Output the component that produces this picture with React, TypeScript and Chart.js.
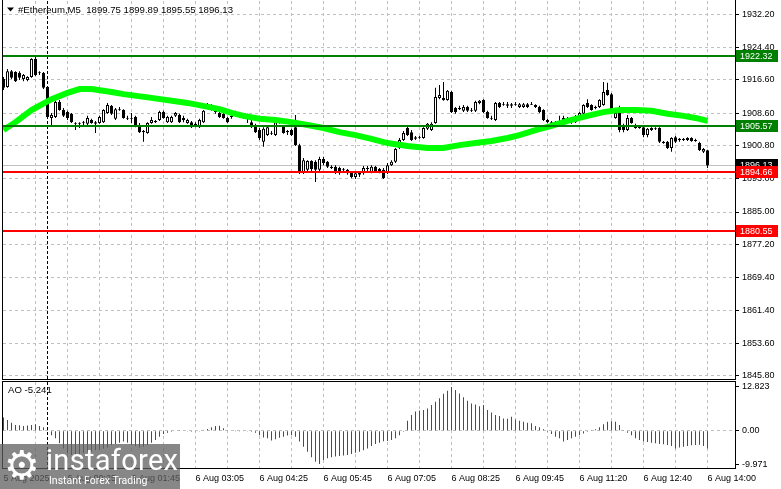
import React, { useEffect, useRef } from 'react';
import { Chart, registerables } from 'chart.js';

Chart.register(...registerables);

const FONT = '"Liberation Sans", Arial, sans-serif';

const SYMBOL = '#Ethereum,M5';

const OPEN = [
  1916.8,1914.9,1918.7,1918.5,1918.3,1916.8,1916.6,1917.3,1921.6,1918.3,
  1918.3,1914.9,1907.5,1907.7,1911.3,1909.4,1908.9,1908.5,1906.3,1906.3,
  1906.3,1906.1,1907.0,1906.5,1906.3,1906.5,1908.7,1910.4,1907.3,1909.6,
  1909.4,1907.5,1907.3,1907.7,1905.8,1904.4,1903.9,1906.3,1906.8,1907.0,
  1908.9,1906.5,1906.5,1908.0,1908.2,1907.5,1906.3,1906.5,1906.1,1905.3,
  1906.5,1909.9,1910.6,1909.4,1908.7,1908.5,1907.5,1908.0,1908.2,1908.7,
  1907.7,1908.0,1906.5,1905.8,1904.6,1901.8,1903.4,1903.9,1903.4,1906.5,
  1905.6,1904.1,1904.6,1905.3,1901.0,1894.6,1895.1,1897.2,1897.0,1895.1,
  1897.7,1897.0,1895.8,1895.8,1895.5,1895.1,1895.1,1894.6,1893.4,1894.6,
  1894.3,1895.3,1894.6,1895.8,1895.3,1895.1,1894.6,1896.2,1897.0,1900.3,
  1902.2,1905.1,1904.1,1902.9,1902.7,1902.7,1904.9,1904.6,1906.3,1912.3,
  1912.3,1911.8,1913.7,1909.9,1909.9,1909.2,1910.1,1909.4,1909.2,1911.1,
  1911.8,1908.9,1907.5,1907.0,1911.1,1910.8,1910.8,1910.8,1910.6,1910.1,
  1910.1,1910.8,1910.8,1910.6,1910.1,1909.4,1907.0,1906.5,1906.5,1906.8,
  1906.3,1906.5,1906.5,1906.5,1907.5,1908.5,1911.1,1910.6,1909.9,1910.1,
  1910.6,1914.2,1913.2,1907.5,1909.9,1905.8,1904.6,1907.5,1905.8,1905.6,
  1905.3,1903.4,1905.1,1905.1,1905.1,1901.8,1901.8,1900.3,1902.9,1902.5,
  1902.5,1902.2,1902.7,1902.2,1901.5,1899.4,1899.75,
];

const HIGH = [
  1917.3,1919.2,1919.0,1918.7,1918.7,1918.0,1917.5,1921.8,1922.3,1918.7,
  1918.5,1915.1,1908.7,1911.6,1911.8,1909.9,1909.2,1908.7,1906.5,1906.5,
  1906.8,1908.0,1907.3,1906.8,1908.0,1909.6,1911.1,1910.6,1909.9,1910.1,
  1909.6,1908.0,1908.7,1908.0,1906.3,1904.6,1906.5,1907.7,1907.0,1909.2,
  1909.2,1908.0,1908.0,1908.9,1908.5,1908.0,1907.3,1906.8,1906.5,1907.3,
  1909.4,1911.1,1910.8,1909.6,1908.9,1908.7,1907.7,1908.2,1909.2,1908.9,
  1908.7,1908.5,1907.0,1906.1,1905.1,1905.3,1905.8,1904.4,1907.0,1907.5,
  1905.8,1904.6,1904.9,1908.2,1901.3,1897.9,1897.4,1897.4,1897.4,1898.2,
  1898.2,1897.2,1896.2,1896.2,1895.8,1895.5,1895.3,1894.8,1894.8,1894.8,
  1896.0,1896.0,1896.2,1896.0,1895.5,1895.5,1896.7,1897.4,1900.3,1902.7,
  1904.4,1905.6,1904.6,1903.2,1903.2,1905.3,1906.3,1906.5,1914.7,1915.4,
  1916.1,1914.2,1914.0,1910.1,1910.4,1910.6,1910.4,1909.9,1911.6,1911.8,
  1912.0,1909.2,1908.0,1911.3,1911.3,1911.3,1911.3,1911.1,1911.3,1911.1,
  1911.1,1911.1,1911.3,1910.8,1910.4,1909.6,1907.3,1906.8,1906.8,1908.0,
  1908.0,1907.7,1907.7,1908.2,1908.9,1910.8,1912.0,1910.8,1910.4,1912.0,
  1916.1,1915.9,1913.5,1908.9,1910.4,1906.1,1908.2,1907.7,1906.1,1905.8,
  1905.6,1905.1,1905.3,1905.3,1905.3,1902.0,1902.0,1902.9,1903.2,1902.7,
  1902.7,1902.9,1902.9,1902.5,1901.8,1900.3,1899.89,
];

const LOW = [
  1914.2,1914.7,1916.8,1916.1,1916.6,1916.3,1916.3,1917.1,1917.5,1917.8,
  1914.4,1907.5,1905.8,1907.5,1909.2,1907.7,1907.0,1906.3,1904.6,1905.1,
  1905.6,1905.8,1906.1,1903.9,1906.1,1906.3,1908.5,1908.2,1907.0,1909.2,
  1907.3,1907.0,1906.3,1905.3,1903.9,1901.8,1903.7,1906.1,1906.3,1906.8,
  1907.3,1906.3,1906.3,1907.7,1906.3,1906.5,1906.1,1905.1,1905.3,1905.1,
  1906.3,1909.6,1909.2,1908.5,1907.5,1907.3,1906.3,1907.3,1908.0,1907.5,
  1907.3,1906.3,1905.1,1903.9,1902.2,1900.6,1903.2,1903.4,1903.2,1906.1,
  1903.7,1903.4,1903.2,1900.8,1894.1,1894.1,1894.6,1894.8,1892.2,1894.8,
  1896.2,1895.5,1895.3,1894.1,1893.9,1894.6,1893.9,1893.1,1892.9,1893.4,
  1893.9,1894.8,1894.3,1894.6,1894.3,1892.9,1894.1,1896.0,1896.7,1900.1,
  1902.0,1903.2,1902.0,1902.2,1902.5,1902.5,1904.6,1904.4,1906.1,1912.0,
  1911.6,1911.6,1908.7,1908.5,1909.4,1908.9,1908.9,1908.9,1908.9,1910.8,
  1908.7,1907.3,1907.0,1906.8,1909.9,1910.4,1909.9,1909.9,1910.4,1909.9,
  1909.9,1909.9,1910.6,1909.9,1908.7,1906.8,1906.3,1905.8,1905.8,1906.1,
  1906.1,1906.1,1906.1,1906.3,1907.3,1908.2,1909.9,1909.2,1909.6,1909.9,
  1910.4,1912.8,1908.5,1907.3,1904.1,1904.1,1904.4,1906.1,1904.9,1904.9,
  1902.9,1902.9,1904.4,1904.6,1901.5,1901.3,1900.1,1899.4,1901.5,1901.8,
  1902.0,1902.0,1901.8,1901.8,1899.6,1899.1,1895.55,
];

const CLOSE = [
  1914.7,1918.7,1917.1,1916.3,1917.1,1917.8,1917.3,1921.6,1917.8,1918.5,
  1914.7,1907.7,1908.2,1911.3,1909.4,1908.0,1907.5,1906.5,1906.1,1906.1,
  1906.5,1907.5,1906.3,1906.1,1907.7,1909.4,1910.6,1908.5,1909.6,1909.4,
  1907.5,1907.3,1907.5,1905.6,1904.1,1904.1,1906.3,1907.0,1906.5,1908.9,
  1907.5,1907.7,1907.7,1908.7,1906.5,1907.0,1907.0,1905.3,1905.8,1907.0,
  1909.2,1910.6,1909.4,1908.9,1907.7,1907.5,1906.5,1907.7,1908.9,1907.7,
  1908.2,1907.5,1905.3,1904.1,1902.7,1904.9,1905.3,1903.7,1906.5,1906.8,
  1903.9,1904.4,1903.4,1901.0,1894.6,1897.4,1897.2,1895.3,1895.1,1897.7,
  1896.7,1895.8,1895.5,1894.6,1894.3,1895.3,1894.3,1893.4,1894.3,1893.9,
  1895.5,1895.5,1895.8,1894.8,1894.8,1893.1,1896.2,1897.0,1900.1,1902.2,
  1903.9,1903.4,1902.2,1902.5,1902.9,1905.1,1906.1,1906.1,1912.5,1913.0,
  1911.8,1914.0,1908.9,1908.9,1909.6,1910.1,1909.2,1909.2,1911.3,1911.6,
  1908.9,1907.5,1907.3,1911.1,1910.1,1910.6,1910.4,1910.4,1910.8,1910.8,
  1910.8,1910.1,1910.6,1910.1,1908.9,1907.0,1906.5,1906.1,1906.1,1906.5,
  1907.5,1906.8,1907.5,1907.7,1908.7,1910.6,1910.1,1909.4,1910.1,1911.8,
  1913.7,1913.0,1908.7,1908.7,1904.6,1904.6,1907.5,1906.3,1905.1,1905.1,
  1903.4,1904.9,1904.6,1904.9,1901.8,1901.5,1900.3,1902.7,1901.8,1902.2,
  1902.2,1902.7,1902.0,1902.0,1899.8,1900.1,1896.13,
];

// moving average line, read at sample bars
const MA_X = [0,3,7,12,16,19,22,27,30,37,46,54,57,60,64,68,72,76,80,84,88,92,96,101,106,110,114,118,122,126,129,133,137,141,146,150,154,158,162,166,170,173,176];
const MA_Y = [1904.6,1906.5,1909.4,1912.0,1913.5,1914.4,1914.4,1913.7,1913.2,1912.3,1911.1,1909.6,1908.7,1908.0,1907.3,1907.0,1906.5,1905.8,1905.1,1904.1,1903.4,1902.5,1901.5,1900.8,1900.3,1900.3,1901.0,1901.5,1902.0,1902.7,1903.4,1904.6,1905.6,1906.8,1908.0,1908.9,1909.4,1909.4,1909.2,1908.5,1908.0,1907.5,1906.8];

const AO = [
  3.9,3.1,2.3,1.7,1.6,1.4,1.5,1.7,1.9,1.4,
  1.0,0.2,-1.3,-2.2,-3.7,-5.2,-6.6,-7.1,-7.4,-7.1,
  -6.6,-6.5,-6.2,-5.7,-5.5,-5.2,-4.9,-4.2,-3.9,-3.5,
  -3.2,-3.5,-4.2,-4.5,-4.9,-4.7,-4.2,-3.5,-2.7,-1.8,
  -1.0,-0.6,-0.3,0.1,0.2,0.15,-0.2,-0.3,-0.2,-0.1,
  0.2,0.5,1.0,1.4,1.45,0.7,0.2,0.1,-0.05,-0.1,
  -0.15,-0.1,-0.3,-0.6,-1.3,-2.0,-2.2,-2.9,-2.5,-2.1,
  -1.8,-1.4,-1.3,-1.8,-3.2,-4.7,-6.2,-7.8,-9.1,-9.8,
  -8.6,-8.1,-7.8,-7.6,-7.4,-7.3,-7.1,-6.8,-6.5,-6.2,
  -5.7,-5.2,-4.5,-3.9,-3.5,-3.1,-3.0,-2.7,-2.2,-1.3,
  -0.3,2.9,4.6,5.6,5.9,6.1,6.5,7.5,8.5,9.5,
  10.8,11.7,12.823,11.9,10.9,9.8,8.8,8.0,7.7,7.2,
  7.5,6.1,5.3,4.6,4.3,3.6,3.5,4.1,3.3,2.9,
  2.6,2.3,2.2,1.4,1.0,0.4,-0.3,-1.0,-1.8,-2.2,
  -3.2,-2.7,-2.2,-1.8,-1.3,-0.8,-0.3,0.2,0.4,1.0,
  1.9,2.6,2.8,2.6,1.7,0.2,-0.6,-1.3,-2.2,-2.7,
  -3.2,-3.3,-3.5,-3.7,-3.9,-4.0,-4.2,-4.5,-5.2,-4.9,
  -4.7,-4.5,-4.3,-4.2,-4.1,-4.5,-5.241,
];

const PRICE_TICKS = [1932.20,1924.40,1916.60,1908.60,1900.80,1893.00,1885.00,1877.20,1869.40,1861.40,1853.60,1845.80];
const AO_TICKS = [12.823, 0, -9.971];
const AO_TICK_TEXT = ['12.823', '0.00', '-9.971'];

const GREEN_LEVELS = [1922.32, 1905.57];
const RED_LEVELS = [1894.66, 1880.55];

const LABEL_IDX = [0,16,32,48,64,80,96,112,128,144,160,176];
const LABEL_TEXT = ['5 Aug 2025','6 Aug 00:25','6 Aug 01:45','6 Aug 03:05','6 Aug 04:25','6 Aug 05:45','6 Aug 07:05','6 Aug 08:25','6 Aug 09:45','6 Aug 11:20','6 Aug 12:40','6 Aug 14:00'];
const GRID_IDX = [8,16,24,32,40,48,56,64,72,80,88,96,104,112,120,128,136,144,152,160,168,176];
const DAY_START = 11;

// layout constants
const X_MIN = -0.125;
const X_MAX = 182.875;
const PRICE_MIN = 1845.05;
const PRICE_MAX = 1935.48;
const AO_MIN = -10.94;
const AO_MAX = 14.28;

const GRID = '#c0c0c0';
const LEVEL_GREEN = '#008000';
const LEVEL_RED = '#ff0000';
const AO_UP = '#008000';
const AO_DOWN = '#ff0000';
const MA_COLOR = '#00ff00';

const LAST = CLOSE.length - 1;
const BID = CLOSE[LAST];

function line(ctx: any, x1: number, y1: number, x2: number, y2: number) {
  ctx.beginPath();
  ctx.moveTo(x1, y1);
  ctx.lineTo(x2, y2);
  ctx.stroke();
}

function priceBox(ctx: any, a: any, y: number, bg: string, text: string) {
  const cy = Math.round(y);
  ctx.fillStyle = bg;
  ctx.fillRect(a.right + 1, cy - 6, 42, 12);
  ctx.fillStyle = '#ffffff';
  ctx.textBaseline = 'middle';
  ctx.textAlign = 'left';
  ctx.fillText(text, a.right + 5, cy + 0.5);
}

const mainOverlay = {
  id: 'mainOverlay',
  beforeDatasetsDraw(chart: any) {
    const { ctx, chartArea: a, scales } = chart;
    ctx.save();
    ctx.lineWidth = 1;
    ctx.strokeStyle = GRID;
    const by = Math.round(scales.y.getPixelForValue(BID)) + 0.5;
    line(ctx, a.left, by, a.right, by);
    const sx = scales.x.getPixelForValue(DAY_START);
    ctx.strokeStyle = '#000';
    ctx.setLineDash([3, 2]);
    line(ctx, sx, a.top, sx, a.bottom);
    ctx.restore();
  },
  afterDatasetsDraw(chart: any) {
    const { ctx, chartArea: a, scales } = chart;
    ctx.save();
    ctx.lineWidth = 2;
    GREEN_LEVELS.forEach((v) => {
      ctx.strokeStyle = LEVEL_GREEN;
      const y = Math.round(scales.y.getPixelForValue(v));
      line(ctx, a.left, y, a.right, y);
    });
    RED_LEVELS.forEach((v) => {
      ctx.strokeStyle = LEVEL_RED;
      const y = Math.round(scales.y.getPixelForValue(v));
      line(ctx, a.left, y, a.right, y);
    });
    ctx.restore();
  },
  afterDraw(chart: any) {
    const { ctx, chartArea: a, scales } = chart;
    ctx.save();
    ctx.strokeStyle = '#000';
    ctx.lineWidth = 1;
    line(ctx, a.left - 0.5, 0, a.left - 0.5, a.bottom + 1);
    line(ctx, a.right + 0.5, 0, a.right + 0.5, a.bottom + 1);
    line(ctx, a.left - 1, a.bottom + 0.5, a.right + 1, a.bottom + 0.5);
    ctx.font = `9px ${FONT}`;
    priceBox(ctx, a, scales.y.getPixelForValue(BID), '#000000', BID.toFixed(2));
    GREEN_LEVELS.forEach((v) => priceBox(ctx, a, scales.y.getPixelForValue(v), LEVEL_GREEN, v.toFixed(2)));
    RED_LEVELS.forEach((v) => priceBox(ctx, a, scales.y.getPixelForValue(v), LEVEL_RED, v.toFixed(2)));
    // title
    ctx.fillStyle = '#000';
    ctx.beginPath();
    ctx.moveTo(7, 7.5);
    ctx.lineTo(14, 7.5);
    ctx.lineTo(10.5, 11.5);
    ctx.closePath();
    ctx.fill();
    ctx.font = `9.6px ${FONT}`;
    ctx.textAlign = 'left';
    ctx.textBaseline = 'middle';
    const ohlc = [OPEN[LAST], HIGH[LAST], LOW[LAST], CLOSE[LAST]].map((v) => v.toFixed(2)).join(' ');
    ctx.fillText(`${SYMBOL}  ${ohlc}`, 18, 10);
    ctx.restore();
  },
};

const aoOverlay = {
  id: 'aoOverlay',
  beforeDatasetsDraw(chart: any) {
    const { ctx, chartArea: a, scales } = chart;
    ctx.save();
    ctx.lineWidth = 1;
    ctx.strokeStyle = '#000';
    ctx.setLineDash([3, 2]);
    const sx = scales.x.getPixelForValue(DAY_START);
    line(ctx, sx, a.top, sx, a.bottom);
    ctx.restore();
  },
  afterDraw(chart: any) {
    const { ctx, chartArea: a } = chart;
    ctx.save();
    ctx.strokeStyle = '#000';
    ctx.lineWidth = 1;
    line(ctx, a.left - 1, a.top - 0.5, a.right + 1, a.top - 0.5);
    line(ctx, a.left - 1, a.bottom + 0.5, a.right + 1, a.bottom + 0.5);
    line(ctx, a.left - 0.5, a.top - 1, a.left - 0.5, a.bottom + 1);
    line(ctx, a.right + 0.5, a.top - 1, a.right + 0.5, a.bottom + 1);
    ctx.font = `9.6px ${FONT}`;
    ctx.fillStyle = '#000';
    ctx.textAlign = 'left';
    ctx.textBaseline = 'middle';
    ctx.fillText(`AO ${AO[AO.length - 1].toFixed(3)}`, 8, 10);
    ctx.restore();
  },
};

const tickFont = { family: FONT, size: 9 };

function mainConfig(): any {
  const idx = OPEN.map((_, i) => i);
  return {
    type: 'bar',
    data: {
      datasets: [
        {
          type: 'line',
          data: MA_X.map((x, i) => ({ x, y: MA_Y[i] })),
          borderColor: MA_COLOR,
          borderWidth: 6,
          pointRadius: 0,
          tension: 0,
          order: 0,
          clip: 0,
        },
        {
          type: 'bar',
          data: idx.map((i) => ({ x: i, y: [OPEN[i], CLOSE[i]] })),
          backgroundColor: idx.map((i) => (CLOSE[i] >= OPEN[i] ? '#ffffff' : '#000000')),
          borderColor: '#000000',
          borderWidth: 1,
          borderSkipped: false,
          barThickness: 3,
          grouped: false,
          inflateAmount: 0,
          order: 1,
        },
        {
          type: 'bar',
          data: idx.map((i) => ({ x: i, y: [LOW[i], HIGH[i]] })),
          backgroundColor: '#000000',
          borderWidth: 0,
          barThickness: 1,
          grouped: false,
          inflateAmount: 0,
          order: 2,
        },
      ],
    },
    options: {
      animation: false,
      responsive: false,
      devicePixelRatio: 1,
      events: [],
      layout: { padding: { left: 3, top: 1, right: 0, bottom: 1 } },
      plugins: { legend: { display: false }, tooltip: { enabled: false } },
      scales: {
        x: {
          type: 'linear',
          min: X_MIN,
          max: X_MAX,
          offset: false,
          bounds: 'data',
          afterBuildTicks: (s: any) => { s.ticks = GRID_IDX.map((v) => ({ value: v })); },
          afterFit: (s: any) => { s.height = 0; s.paddingLeft = 0; s.paddingRight = 0; },
          ticks: { display: false },
          grid: { color: GRID, lineWidth: 1, drawTicks: false, offset: false },
          border: { display: false, dash: [3, 3] },
        },
        y: {
          type: 'linear',
          position: 'right',
          min: PRICE_MIN,
          max: PRICE_MAX,
          bounds: 'data',
          afterBuildTicks: (s: any) => { s.ticks = PRICE_TICKS.map((v) => ({ value: v })); },
          afterFit: (s: any) => { s.width = 46; s.paddingTop = 0; s.paddingBottom = 0; },
          ticks: {
            autoSkip: false,
            font: tickFont,
            color: '#000',
            padding: 3,
            callback: (v: any) => Number(v).toFixed(2),
          },
          grid: { color: GRID, lineWidth: 1, tickColor: '#000', tickLength: 4, tickBorderDash: [] },
          border: { display: false, dash: [3, 3] },
        },
      },
    },
    plugins: [mainOverlay],
  };
}

function aoConfig(): any {
  return {
    type: 'bar',
    data: {
      datasets: [
        {
          data: AO.map((v, i) => ({ x: i, y: v })),
          backgroundColor: AO.map((v, i) => (i > 0 && v > AO[i - 1] ? AO_UP : AO_DOWN)),
          borderWidth: 0,
          barThickness: 1,
          grouped: false,
          inflateAmount: 0,
        },
      ],
    },
    options: {
      animation: false,
      responsive: false,
      devicePixelRatio: 1,
      events: [],
      layout: { padding: { left: 3, top: 2, right: 0, bottom: 0 } },
      plugins: { legend: { display: false }, tooltip: { enabled: false } },
      scales: {
        x: {
          type: 'linear',
          min: X_MIN,
          max: X_MAX,
          offset: false,
          bounds: 'data',
          afterBuildTicks: (s: any) => { s.ticks = [0, ...GRID_IDX].map((v) => ({ value: v })); },
          afterFit: (s: any) => { s.height = 21; s.paddingLeft = 0; s.paddingRight = 0; },
          ticks: {
            autoSkip: false,
            maxRotation: 0,
            minRotation: 0,
            align: 'start',
            padding: 5,
            font: tickFont,
            color: '#000',
            callback: (v: any) => {
              const k = LABEL_IDX.indexOf(Number(v));
              return k >= 0 ? LABEL_TEXT[k] : '';
            },
          },
          grid: {
            color: (c: any) => (c.tick && c.tick.value === 0 ? 'rgba(0,0,0,0)' : GRID),
            lineWidth: 1,
            drawTicks: false,
            offset: false,
          },
          border: { display: false, dash: [3, 3] },
        },
        y: {
          type: 'linear',
          position: 'right',
          min: AO_MIN,
          max: AO_MAX,
          bounds: 'data',
          afterBuildTicks: (s: any) => { s.ticks = AO_TICKS.map((v) => ({ value: v })); },
          afterFit: (s: any) => { s.width = 46; s.paddingTop = 0; s.paddingBottom = 0; },
          ticks: {
            autoSkip: false,
            font: tickFont,
            color: '#000',
            padding: 3,
            callback: (v: any) => {
              const k = AO_TICKS.indexOf(Number(v));
              return k >= 0 ? AO_TICK_TEXT[k] : '';
            },
          },
          grid: {
            color: (c: any) => (c.tick && c.tick.value === 0 ? GRID : 'rgba(0,0,0,0)'),
            lineWidth: 1,
            tickColor: '#000',
            tickLength: 4,
            tickBorderDash: [],
          },
          border: { display: false, dash: [3, 3] },
        },
      },
    },
    plugins: [aoOverlay],
  };
}

export default function App() {
  const mainRef = useRef<HTMLCanvasElement | null>(null);
  const aoRef = useRef<HTMLCanvasElement | null>(null);

  useEffect(() => {
    const c1 = new Chart(mainRef.current as HTMLCanvasElement, mainConfig());
    const c2 = new Chart(aoRef.current as HTMLCanvasElement, aoConfig());
    return () => {
      c1.destroy();
      c2.destroy();
    };
  }, []);

  return (
    <div style={{ position: 'fixed', left: 0, top: 0, width: 781, height: 489, background: '#ffffff', overflow: 'hidden' }}>
      <canvas ref={mainRef} width={781} height={380} style={{ position: 'absolute', left: 0, top: 0, width: 781, height: 380 }} />
      <canvas ref={aoRef} width={781} height={109} style={{ position: 'absolute', left: 0, top: 380, width: 781, height: 109 }} />
      <div style={{ position: 'absolute', left: 0, top: 444, width: 180, height: 45, background: 'rgba(95,95,95,0.75)', color: '#ffffff', fontFamily: 'Roboto, "Open Sans", sans-serif' }}>
        <div style={{ position: 'absolute', left: 4, top: -3, fontSize: 40, lineHeight: '48px', fontFamily: '"DejaVu Sans", sans-serif' }}>⚙</div>
        <div style={{ position: 'absolute', left: 46, top: 1, fontSize: 29, lineHeight: '30px', letterSpacing: 0.3 }}>instaforex</div>
        <div style={{ position: 'absolute', left: 49, top: 31, fontSize: 10.5, lineHeight: '12px' }}>Instant Forex Trading</div>
      </div>
    </div>
  );
}
